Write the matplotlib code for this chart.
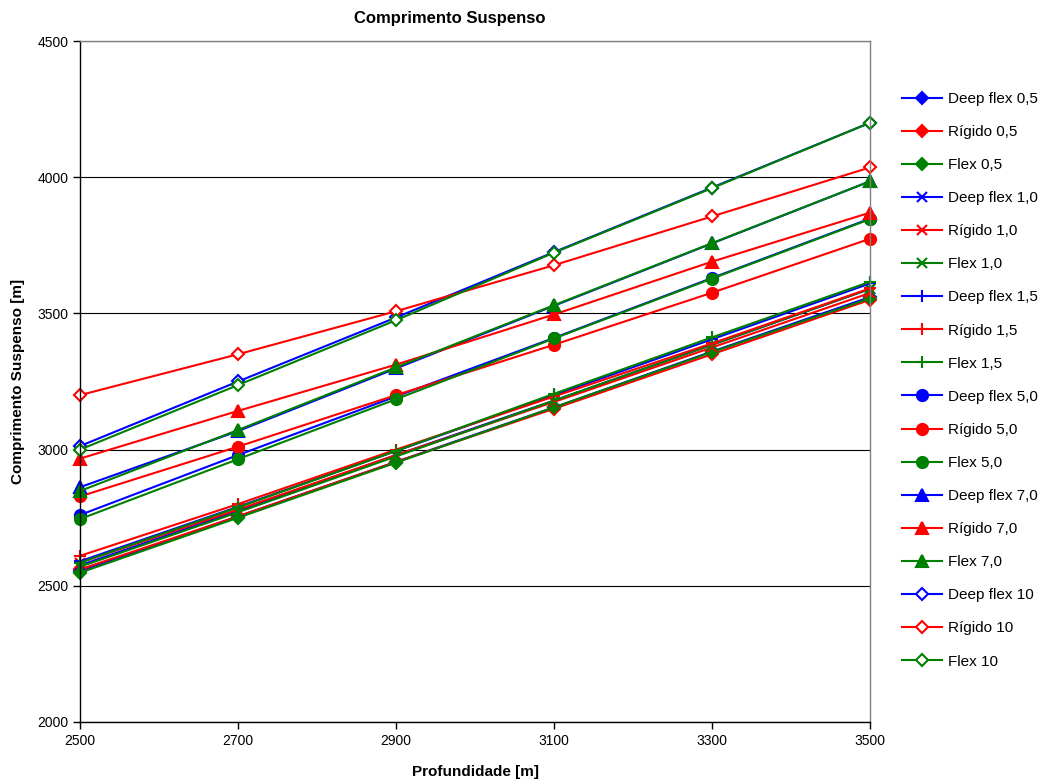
import matplotlib
matplotlib.use("Agg")
import matplotlib.pyplot as plt

plt.rcParams['font.family'] = ['Liberation Sans', 'DejaVu Sans']

# depth values on x axis [m]
depth = [2500, 2700, 2900, 3100, 3300, 3500]

# suspended length [m]
df_0_5 = [2555, 2755, 2955, 3155, 3360, 3560]
rig_0_5 = [2560, 2755, 2955, 3150, 3350, 3550]
fl_0_5 = [2548, 2750, 2952, 3155, 3358, 3555]
df_1_0 = [2575, 2775, 2980, 3180, 3385, 3590]
rig_1_0 = [2585, 2780, 2980, 3175, 3375, 3575]
fl_1_0 = [2570, 2770, 2975, 3180, 3385, 3590]
df_1_5 = [2590, 2790, 2995, 3200, 3405, 3610]
rig_1_5 = [2610, 2800, 3000, 3195, 3390, 3592]
fl_1_5 = [2585, 2788, 2995, 3205, 3412, 3616]
df_5_0 = [2760, 2980, 3195, 3410, 3630, 3848]
rig_5_0 = [2828, 3011, 3200, 3385, 3576, 3774]
fl_5_0 = [2745, 2965, 3185, 3408, 3628, 3846]
df_7_0 = [2862, 3068, 3298, 3528, 3757, 3985]
rig_7_0 = [2967, 3142, 3312, 3496, 3690, 3870]
fl_7_0 = [2848, 3072, 3302, 3530, 3758, 3985]
df_10 = [3013, 3250, 3485, 3725, 3962, 4200]
rig_10 = [3200, 3350, 3508, 3677, 3856, 4036]
fl_10 = [3000, 3237, 3475, 3723, 3960, 4200]

labels = ["Deep flex 0,5", "Rígido 0,5", "Flex 0,5",
          "Deep flex 1,0", "Rígido 1,0", "Flex 1,0",
          "Deep flex 1,5", "Rígido 1,5", "Flex 1,5",
          "Deep flex 5,0", "Rígido 5,0", "Flex 5,0",
          "Deep flex 7,0", "Rígido 7,0", "Flex 7,0",
          "Deep flex 10", "Rígido 10", "Flex 10"]
series = [df_0_5, rig_0_5, fl_0_5, df_1_0, rig_1_0, fl_1_0,
          df_1_5, rig_1_5, fl_1_5, df_5_0, rig_5_0, fl_5_0,
          df_7_0, rig_7_0, fl_7_0, df_10, rig_10, fl_10]

colors = ["#0000FF", "#FF0000", "#008000"]
# marker, size, filled
markers = [("D", 6, True), ("x", 7, True), ("+", 9, True),
           ("o", 8, True), ("^", 8, True), ("D", 6.5, False)]

fig = plt.figure(figsize=(10.42, 7.84), dpi=100)
ax = fig.add_axes([0.0768, 0.0791, 0.7582, 0.8686])

for i, (lab, vals) in enumerate(zip(labels, series)):
    c = colors[i % 3]
    m, ms, filled = markers[i // 3]
    ax.plot(depth, vals, color=c, lw=1.5, marker=m, markersize=ms,
            markerfacecolor=c if filled else "white",
            markeredgecolor=c, markeredgewidth=1.5, label=lab,
            clip_on=False)

ax.set_xlim(2500, 3500)
ax.set_ylim(2000, 4500)
ax.set_xticks(range(2500, 3501, 200))
ax.set_yticks(range(2000, 4501, 500))
ax.yaxis.grid(True, color="black", lw=0.8)
ax.set_axisbelow(True)
ax.tick_params(direction="out", length=5, width=1, labelsize=10, colors="black")
for s in ["left", "bottom"]:
    ax.spines[s].set_color("black")
    ax.spines[s].set_linewidth(1)
for s in ["top", "right"]:
    ax.spines[s].set_color("#808080")
    ax.spines[s].set_linewidth(1)

fig.text(0.432, 0.977, "Comprimento Suspenso", ha="center", va="center",
         fontsize=12, fontweight="bold")
fig.text(0.456, 0.015, "Profundidade [m]", ha="center", va="center",
         fontsize=11, fontweight="bold")
fig.text(0.017, 0.514, "Comprimento Suspenso [m]", ha="center", va="center",
         rotation=90, fontsize=11, fontweight="bold")

fig.legend(loc="center left", bbox_to_anchor=(0.866, 0.515), frameon=False,
           fontsize=11, handlelength=2.6, handletextpad=0.4,
           labelspacing=1.25, borderaxespad=0, borderpad=0)

fig.savefig("out.png", dpi=100)
